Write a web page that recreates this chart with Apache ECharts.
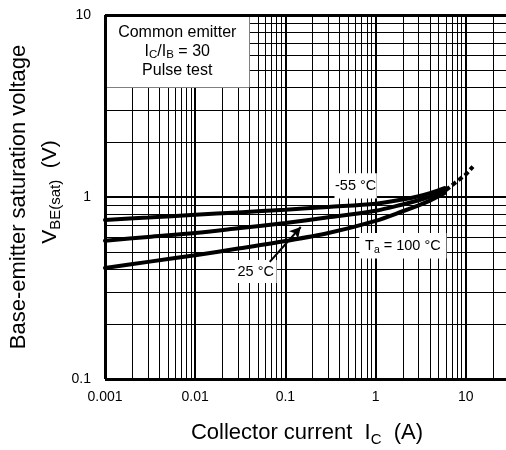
<!DOCTYPE html>
<html><head><meta charset="utf-8">
<script src="https://cdn.jsdelivr.net/npm/echarts@6/dist/echarts.min.js"></script>
<style>html,body{margin:0;padding:0;background:#fff}#c{width:506px;height:450px}</style>
</head><body><div id="c"></div>
<script>
// ---- data ----
const icValues   = [0.001, 0.003, 0.01, 0.03, 0.1, 0.3, 1, 2, 3, 4, 5, 5.8];
const vbeMinus55 = [0.748, 0.771, 0.798, 0.823, 0.851, 0.882, 0.918, 0.97, 1.01, 1.05, 1.09, 1.12];
const vbe25      = [0.575, 0.603, 0.634, 0.673, 0.720, 0.773, 0.84, 0.91, 0.96, 1.005, 1.05, 1.09];
const vbe100     = [0.407, 0.440, 0.479, 0.521, 0.573, 0.634, 0.74, 0.835, 0.90, 0.955, 1.01, 1.05];
const icExtension  = [6.0, 8.0, 10.0, 12.0];
const vbeExtension = [1.09, 1.22, 1.33, 1.47];
const xTickLabels = ['0.001', '0.01', '0.1', '1', '10'];
const yTickLabels = ['0.1', '1', '10'];
const xDecades = [0.001, 0.01, 0.1, 1, 10];
const yDecades = [0.1, 1];

const FONT = "'Liberation Sans', Arial, sans-serif";
const pairs = (xs, ys) => xs.map((x, i) => [x, ys[i]]);

// grid lines (log paper)
const vLines = [], hLines = [];
xDecades.forEach((d, i) => {
  if (i > 0) vLines.push({ xAxis: d, lineStyle: { width: 2 } });
  for (let m = 2; m <= 9; m++) vLines.push({ xAxis: +(m * d).toPrecision(3), lineStyle: { width: 1 } });
});
yDecades.forEach((d, i) => {
  if (i > 0) hLines.push({ yAxis: d, lineStyle: { width: 2 } });
  for (let m = 2; m <= 9; m++) hLines.push({ yAxis: +(m * d).toPrecision(3), lineStyle: { width: 1 } });
});

function tickFormatter(labels, firstExp) {
  return function (v) {
    const k = Math.round(Math.log10(v)) - firstExp;
    return labels[k] !== undefined ? labels[k] : '';
  };
}

const labelRich = {
  t: { fontSize: 14.5, fontFamily: FONT, color: '#000', lineHeight: 19 },
  s: { fontSize: 10.5, fontFamily: FONT, color: '#000', lineHeight: 9, verticalAlign: 'bottom' }
};
const boxRich = {
  t: { fontSize: 16, fontFamily: FONT, color: '#000', lineHeight: 19 },
  s: { fontSize: 11.5, fontFamily: FONT, color: '#000', lineHeight: 9, verticalAlign: 'bottom' }
};
function box(c1, c2, text, rich) {
  return [
    { coord: c1, itemStyle: { color: '#fff', opacity: 1, borderWidth: 0 },
      label: { show: true, position: 'inside', formatter: text, rich: rich, color: '#000' } },
    { coord: c2 }
  ];
}

const curve = (name, xs, ys) => ({
  name, type: 'line', data: pairs(xs, ys), symbol: 'none', smooth: 0.3, z: 5,
  lineStyle: { color: '#000', width: 4, cap: 'round' }, silent: true, clip: false
});

const chart = echarts.init(document.getElementById('c'), null, { renderer: 'canvas' });
chart.setOption({
  animation: false,
  backgroundColor: '#fff',
  grid: { left: 105, top: 15, width: 451, height: 364, containLabel: false, outerBoundsMode: 'none' },
  xAxis: {
    type: 'log', logBase: 10, min: 0.001, max: 100,
    axisLine: { show: false }, axisTick: { show: false }, splitLine: { show: false },
    axisLabel: { margin: 11, fontSize: 14, color: '#000', fontFamily: FONT, formatter: tickFormatter(xTickLabels, -3) }
  },
  yAxis: {
    type: 'log', logBase: 10, min: 0.1, max: 10,
    axisLine: { show: false }, axisTick: { show: false }, splitLine: { show: false },
    axisLabel: { margin: 14, fontSize: 14, color: '#000', fontFamily: FONT, formatter: tickFormatter(yTickLabels, -1) }
  },
  graphic: [
    { type: 'text', x: 307, y: 433, silent: true,
      style: { text: '{a|Collector current  I}{b|C}{a|  (A)}', align: 'center', verticalAlign: 'middle',
        textAlign: 'center', textVerticalAlign: 'middle',
        rich: { a: { fontSize: 22, fontFamily: FONT, fill: '#000', lineHeight: 28 },
                b: { fontSize: 15, fontFamily: FONT, fill: '#000', lineHeight: 14, verticalAlign: 'bottom' } } } },
    { type: 'text', x: 19, y: 197, rotation: Math.PI / 2, silent: true,
      style: { text: 'Base-emitter saturation voltage', fontSize: 22, fontFamily: FONT, fill: '#000',
        align: 'center', verticalAlign: 'middle', textAlign: 'center', textVerticalAlign: 'middle' } },
    { type: 'text', x: 50, y: 192, rotation: Math.PI / 2, silent: true,
      style: { text: '{a|V}{b|BE(sat)}{a|  (V)}', align: 'center', verticalAlign: 'middle',
        textAlign: 'center', textVerticalAlign: 'middle',
        rich: { a: { fontSize: 21, fontFamily: FONT, fill: '#000', lineHeight: 27 },
                b: { fontSize: 15, fontFamily: FONT, fill: '#000', lineHeight: 14, verticalAlign: 'bottom' } } } }
  ],
  series: [
    { name: 'paper', type: 'line', data: [], z: 1, silent: true, clip: false,
      markLine: { z: 1, precision: 10, silent: true, symbol: ['none', 'none'], label: { show: false }, animation: false,
        lineStyle: { color: '#000', type: 'solid' }, emphasis: { disabled: true },
        data: vLines.concat(hLines) } },
    { name: 'notes', type: 'line', data: [], z: 3, silent: true, clip: false,
      markArea: { z: 3, silent: true, animation: false, itemStyle: { color: '#fff', opacity: 1 },
        data: [
          box([0.001, 4.0], [0.04, 10], '{t|Common emitter}\n{t|I}{s|C}{t|/I}{s|B}{t| = 30}\n{t|Pulse test}', boxRich),
          box([0.35, 0.98], [1.03, 1.35], '{t|-55 °C}', labelRich),
          box([0.66, 0.46], [6.1, 0.635], '{t|T}{s|a}{t| = 100 °C}', labelRich),
          box([0.0275, 0.337], [0.08, 0.45], '{t|25 °C}', labelRich)
        ] },
      markLine: { z: 4, precision: 10, silent: true, animation: false, symbol: ['none', 'arrow'], symbolSize: [9, 11],
        label: { show: false }, lineStyle: { color: '#000', width: 2, type: 'solid' },
        data: [[{ coord: [0.067, 0.44] }, { coord: [0.148, 0.684] }]] } },
    curve('-55 °C', icValues, vbeMinus55),
    curve('25 °C', icValues, vbe25),
    curve('100 °C', icValues, vbe100),
    { name: 'extension', type: 'line', data: pairs(icExtension, vbeExtension), symbol: 'none', z: 5,
      silent: true, clip: false, lineStyle: { color: '#000', width: 4, type: [5, 3] } },
    { name: 'frame', type: 'line', data: [], z: 6, silent: true, clip: false,
      markLine: { z: 6, precision: 10, silent: true, symbol: ['none', 'none'], label: { show: false }, animation: false,
        lineStyle: { color: '#000', width: 3, type: 'solid' },
        data: [{ xAxis: 0.001 }, { yAxis: 0.1 }, { yAxis: 10 }] } }
  ]
});
</script></body></html>
